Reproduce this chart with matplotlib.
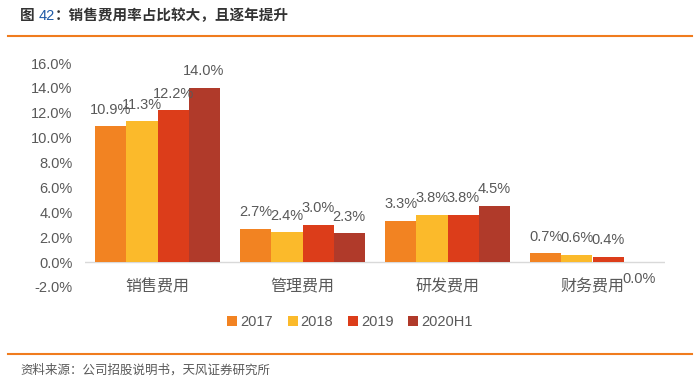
import matplotlib.pyplot as plt
import numpy as np

plt.rcParams['font.family'] = ['Liberation Sans', 'Noto Sans CJK SC', 'DejaVu Sans']

## Chart data
categories = ['销售费用', '管理费用', '研发费用', '财务费用']
years = ['2017', '2018', '2019', '2020H1']
v2017 = [10.9, 2.7, 3.3, 0.7]
v2018 = [11.3, 2.4, 3.8, 0.6]
v2019 = [12.2, 3.0, 3.8, 0.4]
v2020h1 = [14.0, 2.3, 4.5, 0.0]
yticks = [-2, 0, 2, 4, 6, 8, 10, 12, 14, 16]

colors = ['#F28322', '#FBBA2B', '#DC3D1A', '#B03A2A']
gray = '#595959'

fig = plt.figure(figsize=(7, 3.88), dpi=100)
ax = fig.add_axes([85 / 700, 1 - 287 / 388, 580 / 700, 224 / 388])

x = np.arange(len(categories))
w = 0.214
series = [v2017, v2018, v2019, v2020h1]
for i, (vals, yr) in enumerate(zip(series, years)):
    pos = x + (i - 1.5) * w
    ax.bar(pos, vals, w, color=colors[i], label=yr, zorder=2)
    for p, v in zip(pos, vals):
        if v == 0:
            # zero value: Excel drops the label just below the axis
            ax.annotate('%.1f%%' % v, (p, v), xytext=(0, -12), textcoords='offset points',
                        ha='center', va='center', fontsize=10.5, color=gray)
        else:
            ax.annotate('%.1f%%' % v, (p, v), xytext=(0, 12), textcoords='offset points',
                        ha='center', va='center', fontsize=10.5, color=gray)

ax.set_xlim(-0.5, 3.5)
ax.set_ylim(-2, 16)
ax.set_yticks(yticks)
ax.set_yticklabels(['%.1f%%' % t for t in yticks], fontsize=10.5, color=gray)
ax.tick_params(axis='y', length=0, pad=9)
ax.set_xticks([])
for s in ax.spines.values():
    s.set_visible(False)
ax.axhline(0, color='#D9D9D9', lw=1, zorder=1)
for xi, c in zip(x, categories):
    ax.text(xi, -2, c, ha='center', va='center', fontsize=11.5, color=gray)

fig.legend(loc='center', bbox_to_anchor=(0.5, 1 - 322 / 388), ncol=4, frameon=False,
           fontsize=10.5, handlelength=0.7, handleheight=0.7, handletextpad=0.2,
           columnspacing=1.0, labelcolor=gray)

## Title with orange rule
fig.canvas.draw()
r = fig.canvas.get_renderer()
t1 = fig.text(20 / 700, 1 - 16 / 388, '图 ', fontsize=10.5, fontweight='bold', color='#333333', va='center')
x1 = t1.get_window_extent(r).x1
t2 = fig.text(x1 / 700, 1 - 16 / 388, '42', fontsize=10.5, color='#1F5AA6', va='center')
x2 = t2.get_window_extent(r).x1
fig.text(x2 / 700, 1 - 16 / 388, '：销售费用率占比较大，且逐年提升', fontsize=10.5, fontweight='bold',
         color='#333333', va='center')
fig.add_artist(plt.Line2D([8 / 700, 692 / 700], [1 - 36 / 388] * 2, color='#F07C1E', lw=1.5))

## Source footer
fig.add_artist(plt.Line2D([8 / 700, 692 / 700], [1 - 354 / 388] * 2, color='#F07C1E', lw=1.5))
fig.text(20 / 700, 1 - 370 / 388, '资料来源：公司招股说明书，天风证券研究所', fontsize=9, color=gray, va='center')

fig.savefig('out.png', dpi=100)
